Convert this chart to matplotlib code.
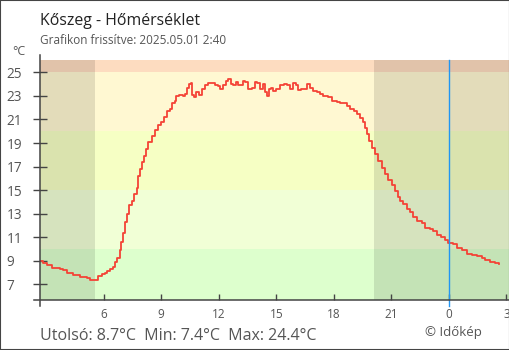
import matplotlib
matplotlib.use("Agg")
import matplotlib.pyplot as plt
from matplotlib.patches import Rectangle

plt.rcParams['font.family'] = ['Open Sans', 'DejaVu Sans']

# hours since midnight of the previous day (values past 24 belong to the next day)
hours = [2.68, 2.85, 3.03, 3.29, 3.55, 3.72, 3.89, 4.07, 4.41, 4.76, 5.11, 5.29, 5.63,
         5.72, 5.90, 6.07, 6.16, 6.33, 6.47, 6.59, 6.71, 6.85, 6.92, 6.99, 7.11, 7.23,
         7.34, 7.46, 7.60, 7.72, 7.81, 7.89, 7.98, 8.10, 8.21, 8.33, 8.50, 8.68, 8.85,
         8.97, 9.16, 9.29, 9.46, 9.55, 9.72, 9.77, 9.94, 10.12, 10.24, 10.33, 10.45,
         10.55, 10.61, 10.71, 10.81, 10.96, 11.11, 11.28, 11.46, 11.63, 11.81, 11.98,
         12.07, 12.24, 12.38, 12.50, 12.63, 12.76, 12.90, 13.02, 13.25, 13.37, 13.54,
         13.72, 13.89, 14.01, 14.15, 14.33, 14.43, 14.50, 14.64, 14.73, 14.85, 14.99,
         15.20, 15.41, 15.58, 15.72, 15.89, 16.03, 16.12, 16.28, 16.45, 16.62, 16.76,
         16.93, 17.14, 17.28, 17.46, 17.72, 17.89, 18.16, 18.33, 18.50, 18.68, 18.85,
         19.06, 19.20, 19.37, 19.54, 19.63, 19.72, 19.85, 19.98, 20.15, 20.32, 20.50,
         20.67, 20.85, 21.02, 21.20, 21.37, 21.46, 21.63, 21.81, 21.98, 22.15, 22.36,
         22.59, 22.76, 23.02, 23.19, 23.37, 23.58, 23.80, 23.98, 24.24, 24.45, 24.68,
         24.94, 25.20, 25.46, 25.72, 25.89, 26.15, 26.41, 26.62]
temps = [9.0, 8.8, 8.6, 8.4, 8.4, 8.3, 8.2, 8.0, 7.8, 7.6, 7.5, 7.4, 7.4,
         7.7, 7.9, 8.0, 8.1, 8.3, 8.5, 8.9, 9.2, 9.9, 10.6, 11.4, 12.3, 13.0,
         13.7, 14.1, 14.7, 15.2, 16.2, 16.8, 17.4, 17.9, 18.5, 19.1, 19.6, 20.1, 20.5,
         20.8, 21.2, 21.7, 21.9, 22.4, 22.6, 23.0, 23.1, 23.0, 23.2, 23.7, 24.0,
         24.1, 23.1, 22.9, 23.3, 23.1, 23.6, 23.9, 24.1, 24.1, 23.9, 23.8,
         23.6, 23.9, 24.3, 24.4, 24.0, 23.9, 24.2, 23.9, 24.3, 24.2, 23.6,
         23.7, 24.2, 24.1, 23.6, 24.0, 23.3, 23.0, 23.6, 23.7, 23.4, 23.6,
         23.9, 24.0, 23.9, 23.6, 24.1, 23.9, 23.5, 23.6, 23.6, 24.0, 23.7,
         23.4, 23.3, 23.2, 23.0, 22.9, 22.6, 22.5, 22.4, 22.4, 22.1, 21.9,
         21.7, 21.5, 21.1, 20.8, 20.3, 19.8, 19.2, 18.6, 18.1, 17.5, 16.9,
         16.4, 15.9, 15.4, 14.9, 14.4, 14.1, 13.8, 13.4, 13.1, 12.7, 12.4,
         12.2, 11.8, 11.7, 11.5, 11.2, 11.0, 10.8, 10.5, 10.4, 10.1, 9.9,
         9.6, 9.5, 9.4, 9.2, 9.1, 8.9, 8.8, 8.7]

# temperature bands (lower edge, upper edge, colour)
band_edges = [5.0, 10, 15, 20, 25, 30]
band_colors = ['#ddffcd', '#f1ffd6', '#f6ffc4', '#fff8d2', '#fddcc0']

sunrise = 5.55
sunset = 20.10
midnight = 24

xticks = [6, 9, 12, 15, 18, 21, 24, 27]
xtick_labels = ['6', '9', '12', '15', '18', '21', '0', '3']
yticks = [7, 9, 11, 13, 15, 17, 19, 21, 23, 25]

last_t = temps[-1]
min_t = min(temps)
max_t = max(temps)

W, H = 510, 350
fig = plt.figure(figsize=(W / 100, H / 100), dpi=100)
ax = fig.add_axes([40 / W, 1 - 300 / H, 470 / W, 240.5 / H])

for lo, hi, c in zip(band_edges[:-1], band_edges[1:], band_colors):
    ax.axhspan(lo, hi, color=c, lw=0, zorder=0)
ax.axvspan(0, sunrise, color='black', alpha=0.11, lw=0, zorder=1)
ax.axvspan(sunset, 30, color='black', alpha=0.11, lw=0, zorder=1)

ax.plot(hours, temps, drawstyle='steps-post', color='#f44336', lw=1.3, zorder=3)
ax.axvline(midnight, ymin=-0.027, ymax=1, color='#2196f3', lw=1.0, clip_on=False, zorder=4)

ax.set_xlim(2.677, 27.19)
ax.set_ylim(5.67, 26.09)

for s in ax.spines.values():
    s.set_visible(False)
axis_col = '#444444'
ax.plot([0, 0], [-0.027, 1.02], transform=ax.transAxes, color=axis_col, lw=1.1, clip_on=False, zorder=5)
ax.plot([-0.013, 1], [0, 0], transform=ax.transAxes, color=axis_col, lw=1.1, clip_on=False, zorder=5)

ax.set_xticks(xticks)
ax.set_xticklabels(xtick_labels)
ax.set_yticks(yticks)
ax.tick_params(axis='x', direction='in', length=4.5, width=1.0, color=axis_col,
               labelsize=8.5, labelcolor='#555555', pad=6)
ax.tick_params(axis='y', direction='inout', length=10, width=1.0, color=axis_col,
               labelsize=9.8, labelcolor='#555555', pad=19)
for lab in ax.get_yticklabels():
    lab.set_horizontalalignment('left')

fig.text(40 / W, 1 - 25 / H, 'Kőszeg - Hőmérséklet', fontsize=11.4, color='#222222', va='baseline')
fig.text(40 / W, 1 - 44.5 / H, 'Grafikon frissítve: 2025.05.01 2:40', fontsize=8.5,
         color='#555555', va='baseline')
fig.text(19 / W, 1 - 55 / H, '°C', fontsize=9, color='#555555', va='baseline', ha='center')
fig.text(40 / W, 1 - 339.5 / H,
         f'Utolsó: {last_t:.1f}°C  Min: {min_t:.1f}°C  Max: {max_t:.1f}°C',
         fontsize=11.5, color='#555555', va='baseline')
fig.text(425 / W, 1 - 336 / H, '© Időkép', fontsize=9.5, color='#555555', va='baseline')

fig.add_artist(Rectangle((0, 0), 1, 1, transform=fig.transFigure, fill=False,
                         edgecolor='#444444', lw=1.5))

fig.savefig('out.png', dpi=100)
